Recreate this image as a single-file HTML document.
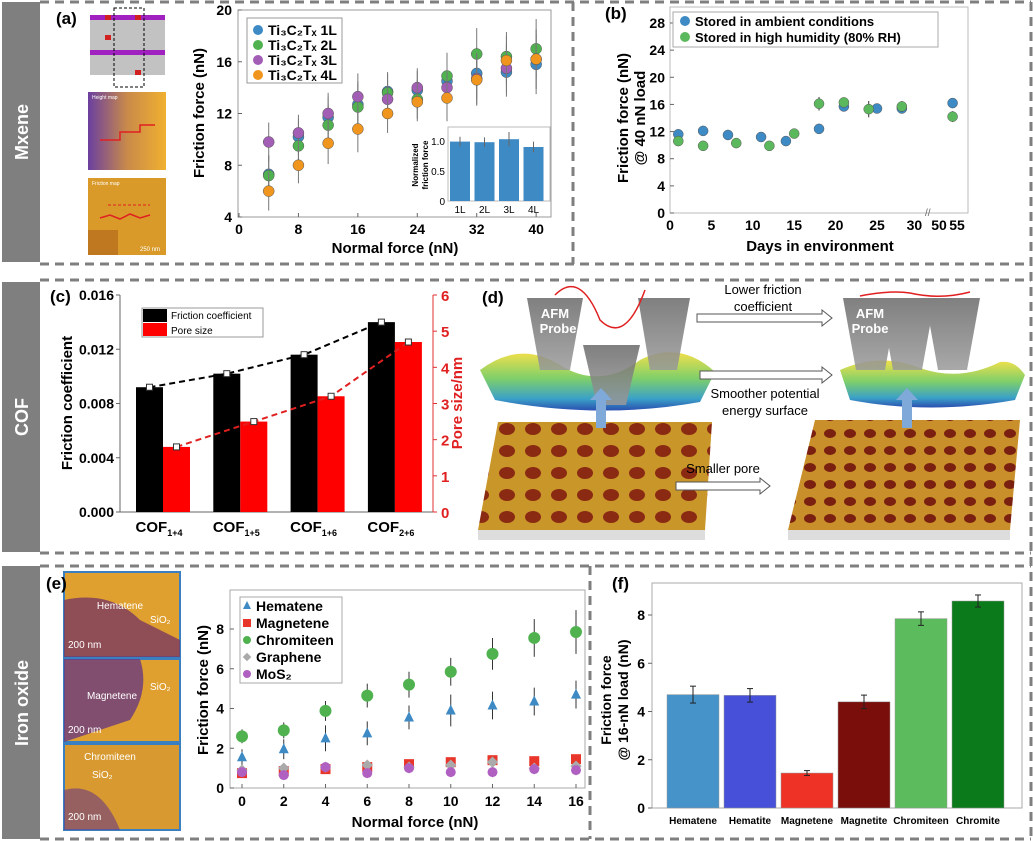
<!DOCTYPE html>
<html><head><meta charset="utf-8">
<style>
html,body{margin:0;padding:0;background:#fff;}
svg{display:block;font-family:"Liberation Sans",Arial,sans-serif;}
text{font-family:"Liberation Sans",Arial,sans-serif;}
</style></head>
<body>
<svg id="fig" width="1033" height="841" viewBox="0 0 1033 841" xmlns="http://www.w3.org/2000/svg">
<defs>
<linearGradient id="surf" x1="0" y1="0" x2="0" y2="1"><stop offset="0" stop-color="#f2e04a"/><stop offset="0.45" stop-color="#7fcf6a"/><stop offset="0.8" stop-color="#3aa0c8"/><stop offset="1" stop-color="#2a4fb0"/></linearGradient>
<pattern id="afm" width="26" height="22" patternUnits="userSpaceOnUse"><rect width="26" height="22" fill="#c9962a"/><ellipse cx="13" cy="11" rx="8" ry="6" fill="#8a2a12"/></pattern>
<pattern id="afm2" width="20" height="17" patternUnits="userSpaceOnUse"><rect width="20" height="17" fill="#c98f2a"/><ellipse cx="10" cy="8.5" rx="6" ry="4.5" fill="#7a2010"/></pattern>
<linearGradient id="hmap" x1="0" y1="0" x2="1" y2="0"><stop offset="0" stop-color="#6a3fa0"/><stop offset="0.5" stop-color="#c98a4a"/><stop offset="1" stop-color="#f0b030"/></linearGradient>
<linearGradient id="probe" x1="0" y1="0" x2="0" y2="1"><stop offset="0" stop-color="#6a6a6a"/><stop offset="1" stop-color="#9a9a9a"/></linearGradient>
</defs>
<g id="frame">
<rect x="2" y="2" width="38" height="260" fill="#7f7f7f"/>
<rect x="2" y="282" width="38" height="270" fill="#7f7f7f"/>
<rect x="2" y="566" width="38" height="273" fill="#7f7f7f"/>
<text transform="translate(28,132) rotate(-90)" text-anchor="middle" fill="#fff" font-size="18" font-weight="bold">Mxene</text>
<text transform="translate(28,417) rotate(-90)" text-anchor="middle" fill="#fff" font-size="18" font-weight="bold">COF</text>
<text transform="translate(28,703) rotate(-90)" text-anchor="middle" fill="#fff" font-size="18" font-weight="bold">Iron oxide</text>
<g stroke="#7f7f7f" stroke-width="3" stroke-dasharray="9,6" fill="none">
<line x1="40" y1="2" x2="1031" y2="2"/><line x1="40" y1="264" x2="1031" y2="264"/>
<line x1="40" y1="280" x2="1031" y2="280"/><line x1="40" y1="553" x2="1031" y2="553"/>
<line x1="40" y1="566" x2="1031" y2="566"/><line x1="40" y1="839" x2="1031" y2="839"/>
<line x1="1031" y1="2" x2="1031" y2="839"/>
<line x1="573" y1="2" x2="573" y2="264"/><line x1="590" y1="566" x2="590" y2="839"/>
</g>
</g>
<g>
<text x="56" y="24" font-size="17" font-weight="bold">(a)</text>
<rect x="90" y="15" width="75" height="60" fill="#9a9a9a" opacity="0.6"/>
<g fill="#a020c0"><rect x="90" y="15" width="75" height="5"/><rect x="90" y="50" width="75" height="5"/></g>
<g fill="#d02020"><rect x="105" y="15" width="6" height="5"/><rect x="135" y="15" width="6" height="5"/><rect x="105" y="35" width="6" height="5"/><rect x="135" y="70" width="6" height="5"/></g>
<rect x="114" y="8" width="30" height="79" fill="none" stroke="#000" stroke-dasharray="3,2"/>
<rect x="88" y="92" width="78" height="78" fill="url(#hmap)"/>
<text x="92" y="99" font-size="5" fill="#fff">Height map</text>
<polyline points="100,140 120,140 120,132 140,132 140,125 155,125" fill="none" stroke="#e02020" stroke-width="1.5"/>
<rect x="88" y="178" width="78" height="77" fill="#d99a2a"/>
<rect x="88" y="230" width="30" height="25" fill="#c07820"/>
<polyline points="100,218 110,215 120,219 130,214 140,218 150,215" fill="none" stroke="#e02020" stroke-width="1.5"/>
<line x1="108" y1="205" x2="150" y2="205" stroke="#e02020" stroke-dasharray="3,2"/>
<text x="92" y="185" font-size="5" fill="#fff">Friction map</text>
<text x="140" y="251" font-size="6" fill="#fff">250 nm</text>
</g>
<g id="pa"></g>
<g id="pb"></g>
<g id="pc"></g>
<g>
<text x="482" y="303" font-size="17" font-weight="bold">(d)</text>
<path d="M480,370 Q520,340 560,365 Q600,390 640,360 Q680,340 715,372 L700,402 Q600,420 495,400 Z" fill="url(#surf)"/>
<path d="M840,370 Q880,352 920,368 Q960,382 1000,362 Q1015,360 1025,375 L1015,400 Q930,415 850,400 Z" fill="url(#surf)"/>
<g fill="url(#probe)" opacity="0.85">
<polygon points="527,298 583,298 570,370 540,370"/><polygon points="583,345 640,345 626,405 597,405"/><polygon points="638,298 690,298 677,370 650,370"/>
<polygon points="843,298 898,298 885,370 856,370"/><polygon points="880,298 935,298 922,370 893,370"/><polygon points="925,298 980,298 967,370 938,370"/>
</g>
<text x="555" y="318" font-size="13" fill="#fff" text-anchor="middle" font-weight="bold">AFM</text>
<text x="558" y="333" font-size="13" fill="#fff" text-anchor="middle" font-weight="bold">Probe</text>
<text x="870" y="318" font-size="13" fill="#fff" text-anchor="middle" font-weight="bold">AFM</text>
<text x="870" y="333" font-size="13" fill="#fff" text-anchor="middle" font-weight="bold">Probe</text>
<path d="M555,295 Q580,270 600,320 Q625,345 645,290" fill="none" stroke="#e02020" stroke-width="1.5"/>
<path d="M860,296 Q890,290 910,293 Q940,300 970,292" fill="none" stroke="#e02020" stroke-width="1.5"/>
<polygon points="498,422 712,422 705,530 478,530" fill="url(#afm)"/>
<polygon points="478,530 705,530 705,540 478,540" fill="#ddd"/>
<polygon points="815,420 1020,420 1010,530 788,530" fill="url(#afm2)"/>
<polygon points="788,530 1010,530 1010,540 788,540" fill="#ddd"/>
<rect x="596" y="398" width="10" height="30" fill="#7fa9d8"/><polygon points="590,400 612,400 601,388" fill="#7fa9d8"/>
<rect x="902" y="398" width="10" height="30" fill="#7fa9d8"/><polygon points="896,400 918,400 907,388" fill="#7fa9d8"/>
<g fill="#fff" stroke="#555">
<polygon points="697,314 822,314 822,310 832,318 822,326 822,322 697,322"/>
<polygon points="700,371 822,371 822,367 832,375 822,383 822,379 700,379"/>
<polygon points="676,482 760,482 760,478 770,486 760,494 760,490 676,490"/>
</g>
<text x="763" y="294" font-size="13" text-anchor="middle">Lower friction</text>
<text x="763" y="311" font-size="13" text-anchor="middle">coefficient</text>
<text x="765" y="398" font-size="13" text-anchor="middle">Smoother potential</text>
<text x="765" y="415" font-size="13" text-anchor="middle">energy surface</text>
<text x="723" y="473" font-size="13" text-anchor="middle">Smaller pore</text>
</g>
<g>
<rect x="64" y="572" width="116" height="85" fill="#e0a030" stroke="#3a7fc0" stroke-width="2"/>
<path d="M64,600 Q110,590 140,620 L180,640 L180,657 L64,657 Z" fill="#7a3a60" opacity="0.8"/>
<rect x="64" y="659" width="116" height="83" fill="#e0a030" stroke="#3a7fc0" stroke-width="2"/>
<path d="M64,659 L140,659 Q150,690 130,720 L64,742 Z" fill="#6a3a80" opacity="0.8"/>
<rect x="64" y="744" width="116" height="86" fill="#d89a30" stroke="#3a7fc0" stroke-width="2"/>
<path d="M64,790 Q100,780 120,830 L64,830 Z" fill="#6a3a80" opacity="0.6"/>
<text x="120" y="609" font-size="10" fill="#fff" text-anchor="middle">Hematene</text><text x="150" y="623" font-size="10" fill="#fff">SiO₂</text>
<text x="112" y="699" font-size="10" fill="#fff" text-anchor="middle">Magnetene</text><text x="150" y="690" font-size="10" fill="#fff">SiO₂</text>
<text x="110" y="760" font-size="10" fill="#fff" text-anchor="middle">Chromiteen</text><text x="92" y="778" font-size="10" fill="#fff">SiO₂</text>
<text x="68" y="648" font-size="10" fill="#fff">200 nm</text><text x="68" y="733" font-size="10" fill="#fff">200 nm</text><text x="68" y="820" font-size="10" fill="#fff">200 nm</text>
<text x="46" y="589" font-size="17" font-weight="bold">(e)</text>
</g>
<g id="pe"></g>
<g id="pf"></g>
</svg>
<script>
const NS='http://www.w3.org/2000/svg';
function mk(parent,tag,attrs,txt){const e=document.createElementNS(NS,tag);for(const k in attrs)e.setAttribute(k,attrs[k]);if(txt!==undefined)e.textContent=txt;parent.appendChild(e);return e;}
function lin(d0,d1,r0,r1){return v=>r0+(v-d0)*(r1-r0)/(d1-d0);}

const aX=[4,8,12,16,20,24,28,32,36,40];
const a1L=[7.3,10.2,11.7,12.7,13.7,13.8,14.5,15.1,15.2,15.8];
const a2L=[7.2,9.5,11.1,12.5,13.6,13.1,14.9,16.6,16.4,17.0];
const a3L=[9.8,10.5,12.0,13.3,13.1,14.0,14.0,14.7,15.5,16.2];
const a4L=[6.0,8.0,9.7,10.8,12.0,12.9,13.2,14.6,16.1,16.2];
const aErr=[1.5,1.4,1.6,1.8,1.5,1.5,1.8,2.0,1.9,2.3];
const aXTicks=[0,8,16,24,32,40];
const aYTicks=[4,8,12,16,20];
const aSeriesNames=['Ti₃C₂Tₓ 1L','Ti₃C₂Tₓ 2L','Ti₃C₂Tₓ 3L','Ti₃C₂Tₓ 4L'];
const insetCats=['1L','2L','3L','4L'];
const insetVals=[0.99,0.98,1.03,0.9];
const insetErr=[0.08,0.08,0.12,0.09];
const insetTicks=[0,0.5,1.0];

const bDaysAmb=[1,4,7,11,14,18,21,25,28,54];
const bAmb=[11.6,12.1,11.5,11.2,10.6,12.4,15.7,15.4,15.4,16.2];
const bDaysHum=[1,4,8,12,15,18,21,24,28,54];
const bHum=[10.6,9.9,10.3,9.9,11.7,16.1,16.3,15.3,15.7,14.2];
const bHumErr=[0.4,0.3,0.6,0.3,0.5,1.0,0.7,1.2,0.8,0.8];
const bXTicks=[0,5,10,15,20,25,30,50,55];
const bYTicks=[0,4,8,12,16,20,24,28];

const cCats=['1+4','1+5','1+6','2+6'];
const cCoef=[0.0092,0.0102,0.0116,0.0140];
const cPore=[1.8,2.5,3.2,4.7];
const cYTicks=[0,0.004,0.008,0.012,0.016];
const cY2Ticks=[0,1,2,3,4,5,6];

const eX=[0,2,4,6,8,10,12,14,16];
const eHem=[1.55,1.95,2.5,2.75,3.55,3.9,4.15,4.35,4.7];
const eMag=[0.75,0.85,0.95,1.05,1.2,1.3,1.4,1.35,1.45];
const eChr=[2.6,2.9,3.88,4.65,5.2,5.85,6.75,7.55,7.85];
const eGra=[0.9,1.0,1.05,1.15,1.05,1.15,1.3,1.0,1.1];
const eMoS=[0.8,0.65,1.05,0.75,1.0,0.8,0.8,0.95,0.9];
const eChrErr=[0.35,0.4,0.5,0.6,0.65,0.7,0.8,0.95,1.1];
const eHemErr=[0.4,0.5,0.65,0.6,0.6,0.8,0.7,0.7,0.7];
const eXTicks=[0,2,4,6,8,10,12,14,16];
const eYTicks=[0,2,4,6,8];

const fCats=['Hematene','Hematite','Magnetene','Magnetite','Chromiteen','Chromite'];
const fVals=[4.7,4.67,1.45,4.4,7.85,8.58];
const fErr=[0.35,0.28,0.1,0.28,0.28,0.25];
const fYTicks=[0,2,4,6,8];

const B='font-weight:bold';

(function(){
const g=document.getElementById('pa');
const L=238,R=551,T=10,Bt=217;
const x=lin(0,42,239,551), y=lin(4,20,217,10);
mk(g,'rect',{x:L,y:T,width:R-L,height:Bt-T,fill:'none',stroke:'#999'});
aXTicks.forEach(t=>{const l=mk(g,'text',{x:x(t),y:Bt+17,'font-size':14,'text-anchor':'middle',style:B},t);


mk(g,'line',{x1:x(t),y1:Bt,x2:x(t),y2:Bt-4,stroke:'#666'});});
aYTicks.forEach(t=>{const l=mk(g,'text',{x:L-6,y:y(t)+5,'font-size':14,'text-anchor':'end',style:B},t);


mk(g,'line',{x1:L,y1:y(t),x2:L+4,y2:y(t),stroke:'#666'});});
const xt=mk(g,'text',{x:395,y:253,'font-size':15,'text-anchor':'middle',style:B},'Normal force (nN)');


const yt=mk(g,'text',{transform:'translate(204,113) rotate(-90)','font-size':15,'text-anchor':'middle',style:B},'Friction force (nN)');


const cols=['#3d8ac4','#4fb24f','#a25db5','#f0961e'];
[a1L,a2L,a3L,a4L].forEach((s,si)=>{s.forEach((v,i)=>{
mk(g,'line',{x1:x(aX[i]),y1:y(v-aErr[i]),x2:x(aX[i]),y2:y(v+aErr[i]),stroke:'#777','stroke-width':1});
const c=mk(g,'circle',{cx:x(aX[i]),cy:y(v),r:5.5,fill:cols[si],stroke:'#555','stroke-width':0.5});

});});
const lg=mk(g,'g',{});


mk(lg,'rect',{x:247,y:18,width:95,height:65,fill:'#fff',stroke:'#999'});
aSeriesNames.forEach((n,i)=>{mk(lg,'circle',{cx:258,cy:30+i*15,r:5,fill:cols[i]});
mk(lg,'text',{x:268,y:35+i*15,'font-size':14,style:B},n);});
const ig=mk(g,'g',{});


const il=448,ir=550,it=127,ib=201;
mk(ig,'rect',{x:il,y:it,width:ir-il,height:ib-it,fill:'#fff',stroke:'#bbb'});
const iy=lin(0,1,201,141);const bw=20;
insetCats.forEach((c,i)=>{const cx=459+i*24.5;
const r=mk(ig,'rect',{x:cx-bw/2+1,y:iy(insetVals[i]),width:bw,height:iy(0)-iy(insetVals[i]),fill:'#3d8ac4'});


mk(ig,'line',{x1:cx+1,y1:iy(insetVals[i]-insetErr[i]),x2:cx+1,y2:iy(insetVals[i]+insetErr[i]),stroke:'#666'});
mk(ig,'text',{x:cx+1,y:ib+12,'font-size':10,'text-anchor':'middle'},c);});
insetTicks.forEach(t=>mk(ig,'text',{x:il-3,y:iy(t)+4,'font-size':10,'text-anchor':'end'},t===1?'1.0':t));
mk(ig,'text',{transform:'translate(418,165) rotate(-90)','font-size':8,'text-anchor':'middle',style:B},'Normalized');
mk(ig,'text',{transform:'translate(428,165) rotate(-90)','font-size':8,'text-anchor':'middle',style:B},'friction force');
})();

(function(){
const g=document.getElementById('pb');
const L=670,R=968,T=7,Bt=213;
const xl=lin(0,25,670,877);
const x=d=>d<=30?xl(d):935+(d-50)*4.4;
const y=lin(0,28,213,23);
mk(g,'text',{x:605,y:19,'font-size':17,style:B},'(b)');
mk(g,'rect',{x:L,y:T,width:R-L,height:Bt-T,fill:'none',stroke:'#bbb'});
bXTicks.forEach(t=>{const l=mk(g,'text',{x:x(t)+(t===30?-4:t===50?4:0),y:Bt+17,'font-size':14,'text-anchor':'middle',style:B},t);

});
bYTicks.forEach(t=>{const l=mk(g,'text',{x:L-5,y:y(t)+5,'font-size':14,'text-anchor':'end',style:B},t);


mk(g,'line',{x1:L,y1:y(t),x2:L+4,y2:y(t),stroke:'#666'});});
mk(g,'text',{x:925,y:216,'font-size':10,fill:'#666'},'//');
const xt=mk(g,'text',{x:820,y:251,'font-size':15,'text-anchor':'middle',style:B},'Days in environment');


const yt=mk(g,'text',{transform:'translate(628,118) rotate(-90)','font-size':15,'text-anchor':'middle',style:B},'Friction force (nN)');


mk(g,'text',{transform:'translate(645,118) rotate(-90)','font-size':15,'text-anchor':'middle',style:B},'@ 40 nN load');
bDaysAmb.forEach((d,i)=>{const c=mk(g,'circle',{cx:x(d),cy:y(bAmb[i]),r:5,fill:'#3d8ac4',stroke:'#555','stroke-width':0.5});

});
bDaysHum.forEach((d,i)=>{mk(g,'line',{x1:x(d),y1:y(bHum[i]-bHumErr[i]),x2:x(d),y2:y(bHum[i]+bHumErr[i]),stroke:'#333'});
const c=mk(g,'circle',{cx:x(d),cy:y(bHum[i]),r:5,fill:'#5cb85c',stroke:'#555','stroke-width':0.5});

});
const lg=mk(g,'g',{});


mk(lg,'rect',{x:673,y:12,width:265,height:35,fill:'#fff',stroke:'#aaa'});
mk(lg,'circle',{cx:685,cy:21,r:5,fill:'#3d8ac4'});mk(lg,'text',{x:695,y:26,'font-size':13,style:B},'Stored in ambient conditions');
mk(lg,'circle',{cx:685,cy:37,r:5,fill:'#5cb85c'});mk(lg,'text',{x:695,y:42,'font-size':13,style:B},'Stored in high humidity (80% RH)');
})();

(function(){
const g=document.getElementById('pc');
const L=120,R=433,T=295,Bt=512;
const y=lin(0,0.016,512,295), y2=lin(0,6,512,295);
mk(g,'text',{x:50,y:302,'font-size':17,style:B},'(c)');
mk(g,'line',{x1:L,y1:T,x2:L,y2:Bt,stroke:'#666'});
mk(g,'line',{x1:L,y1:Bt,x2:R,y2:Bt,stroke:'#666'});
mk(g,'line',{x1:R,y1:T,x2:R,y2:Bt,stroke:'#e03030'});
cYTicks.forEach(t=>{const l=mk(g,'text',{x:L-6,y:y(t)+5,'font-size':14,'text-anchor':'end',style:B},t.toFixed(3));


mk(g,'line',{x1:L,y1:y(t),x2:L-4,y2:y(t),stroke:'#666'});});
cY2Ticks.forEach(t=>{const l=mk(g,'text',{x:R+8,y:y2(t)+6,'font-size':15,fill:'#e02020',style:B},t);


mk(g,'line',{x1:R,y1:y2(t),x2:R+4,y2:y2(t),stroke:'#e03030'});});
const yt=mk(g,'text',{transform:'translate(72,403) rotate(-90)','font-size':15,'text-anchor':'middle',style:B},'Friction coefficient');


const yt2=mk(g,'text',{transform:'translate(462,403) rotate(-90)','font-size':15,'text-anchor':'middle',fill:'#e02020',style:B},'Pore size/nm');


const cx=i=>163+i*77.3, bw=27;
let pk=[],pr=[];
cCats.forEach((c,i)=>{
const b1=mk(g,'rect',{x:cx(i)-bw,y:y(cCoef[i]),width:bw,height:Bt-y(cCoef[i]),fill:'#000'});


const b2=mk(g,'rect',{x:cx(i),y:y2(cPore[i]),width:bw,height:Bt-y2(cPore[i]),fill:'#f00'});


pk.push((cx(i)-bw/2)+','+y(cCoef[i]));pr.push((cx(i)+bw/2)+','+y2(cPore[i]));
const t=mk(g,'text',{x:cx(i)-4,y:Bt+20,'font-size':15,'text-anchor':'middle',style:B},'COF');
mk(t,'tspan',{'font-size':9,dy:4},c);});
mk(g,'polyline',{points:pk.join(' '),fill:'none',stroke:'#000','stroke-width':2,'stroke-dasharray':'6,4'});
mk(g,'polyline',{points:pr.join(' '),fill:'none',stroke:'#e02020','stroke-width':2,'stroke-dasharray':'6,4'});
cCats.forEach((c,i)=>{mk(g,'rect',{x:cx(i)-bw/2-3,y:y(cCoef[i])-3,width:6,height:6,fill:'#fff',stroke:'#333'});
mk(g,'rect',{x:cx(i)+bw/2-3,y:y2(cPore[i])-3,width:6,height:6,fill:'#fff',stroke:'#333'});});
const lg=mk(g,'g',{});


mk(lg,'rect',{x:142,y:308,width:121,height:29,fill:'#fff',stroke:'#999'});
mk(lg,'rect',{x:143,y:309,width:24,height:13,fill:'#000'});mk(lg,'text',{x:171,y:319,'font-size':10},'Friction coefficient');
mk(lg,'rect',{x:143,y:323,width:24,height:13,fill:'#f00'});mk(lg,'text',{x:171,y:334,'font-size':10},'Pore size');
})();

(function(){
const g=document.getElementById('pe');
const L=230,R=585,T=590,Bt=788;
const x=lin(0,16,242,576), y=lin(0,8,788,629);
mk(g,'rect',{x:L,y:T,width:R-L,height:Bt-T,fill:'none',stroke:'#aaa'});
eXTicks.forEach(t=>{const l=mk(g,'text',{x:x(t),y:Bt+18,'font-size':14,'text-anchor':'middle',style:B},t);


mk(g,'line',{x1:x(t),y1:Bt,x2:x(t),y2:Bt-4,stroke:'#666'});});
eYTicks.forEach(t=>{const l=mk(g,'text',{x:L-6,y:y(t)+5,'font-size':14,'text-anchor':'end',style:B},t);


mk(g,'line',{x1:L,y1:y(t),x2:L+4,y2:y(t),stroke:'#666'});});
const xt=mk(g,'text',{x:415,y:827,'font-size':15,'text-anchor':'middle',style:B},'Normal force (nN)');


const yt=mk(g,'text',{transform:'translate(208,690) rotate(-90)','font-size':15,'text-anchor':'middle',style:B},'Friction force (nN)');


eX.forEach((v,i)=>{
mk(g,'line',{x1:x(v),y1:y(eChr[i]-eChrErr[i]),x2:x(v),y2:y(eChr[i]+eChrErr[i]),stroke:'#333'});
mk(g,'line',{x1:x(v),y1:y(eHem[i]-eHemErr[i]),x2:x(v),y2:y(eHem[i]+eHemErr[i]),stroke:'#333'});
mk(g,'line',{x1:x(v),y1:y(eMoS[i]-0.25),x2:x(v),y2:y(eMag[i]+0.2),stroke:'#333'});
const m=mk(g,'rect',{x:x(v)-5,y:y(eMag[i])-5,width:10,height:10,fill:'#e8362a'});


const gr=mk(g,'rect',{x:x(v)-4,y:y(eGra[i])-4,width:8,height:8,fill:'#aaa',transform:`rotate(45 ${x(v)} ${y(eGra[i])})`});


const mo=mk(g,'circle',{cx:x(v),cy:y(eMoS[i]),r:5,fill:'#b060c0'});


const h=mk(g,'polygon',{points:`${x(v)},${y(eHem[i])-6} ${x(v)-5},${y(eHem[i])+4} ${x(v)+5},${y(eHem[i])+4}`,fill:'#3d8ac4'});


const c=mk(g,'circle',{cx:x(v),cy:y(eChr[i]),r:6,fill:'#4fb24f'});

});
const lg=mk(g,'g',{});


mk(lg,'rect',{x:240,y:597,width:102,height:86,fill:'#fff',stroke:'#aaa'});
const names=['Hematene','Magnetene','Chromiteen','Graphene','MoS₂'];
names.forEach((n,i)=>{const cy=606+i*17;
if(i===0)mk(lg,'polygon',{points:`${247},${cy-5} ${243},${cy+3} ${251},${cy+3}`,fill:'#3d8ac4'});
if(i===1)mk(lg,'rect',{x:243,y:cy-4,width:8,height:8,fill:'#e8362a'});
if(i===2)mk(lg,'circle',{cx:247,cy:cy,r:4,fill:'#4fb24f'});
if(i===3)mk(lg,'rect',{x:244,y:cy-3,width:6,height:6,fill:'#aaa',transform:`rotate(45 247 ${cy})`});
if(i===4)mk(lg,'circle',{cx:247,cy:cy,r:4,fill:'#b060c0'});
mk(lg,'text',{x:256,y:cy+5,'font-size':14,style:B},n);});
})();

(function(){
const g=document.getElementById('pf');
const L=652,R=1022,T=583,Bt=808;
const y=lin(0,8,808,615);
mk(g,'text',{x:612,y:589,'font-size':17,style:B},'(f)');
mk(g,'rect',{x:L,y:T,width:R-L,height:Bt-T,fill:'none',stroke:'#aaa'});
fYTicks.forEach(t=>{const l=mk(g,'text',{x:L-7,y:y(t)+5,'font-size':14,'text-anchor':'end',style:B},t);


mk(g,'line',{x1:L,y1:y(t),x2:L-4,y2:y(t),stroke:'#666'});});
const yt=mk(g,'text',{transform:'translate(611,700) rotate(-90)','font-size':14,'text-anchor':'middle',style:B},'Friction force');


mk(g,'text',{transform:'translate(628,700) rotate(-90)','font-size':14,'text-anchor':'middle',style:B},'@ 16-nN load (nN)');
const cols=['#4593c8','#4650d8','#ee3326','#7a0e0a','#5cbb5c','#0b7a1a'];
fCats.forEach((c,i)=>{const cx=693+i*57,bw=52;
const r=mk(g,'rect',{x:cx-bw/2,y:y(fVals[i]),width:bw,height:Bt-y(fVals[i]),fill:cols[i],stroke:'#999','stroke-width':0.5});


const e0=y(fVals[i]-fErr[i]),e1=y(fVals[i]+fErr[i]);
mk(g,'line',{x1:cx,y1:e0,x2:cx,y2:e1,stroke:'#222'});
mk(g,'line',{x1:cx-3,y1:e0,x2:cx+3,y2:e0,stroke:'#222'});mk(g,'line',{x1:cx-3,y1:e1,x2:cx+3,y2:e1,stroke:'#222'});
const l=mk(g,'text',{x:cx,y:Bt+16,'font-size':10,'text-anchor':'middle',style:B},c);

});
})();
</script>
</body></html>
